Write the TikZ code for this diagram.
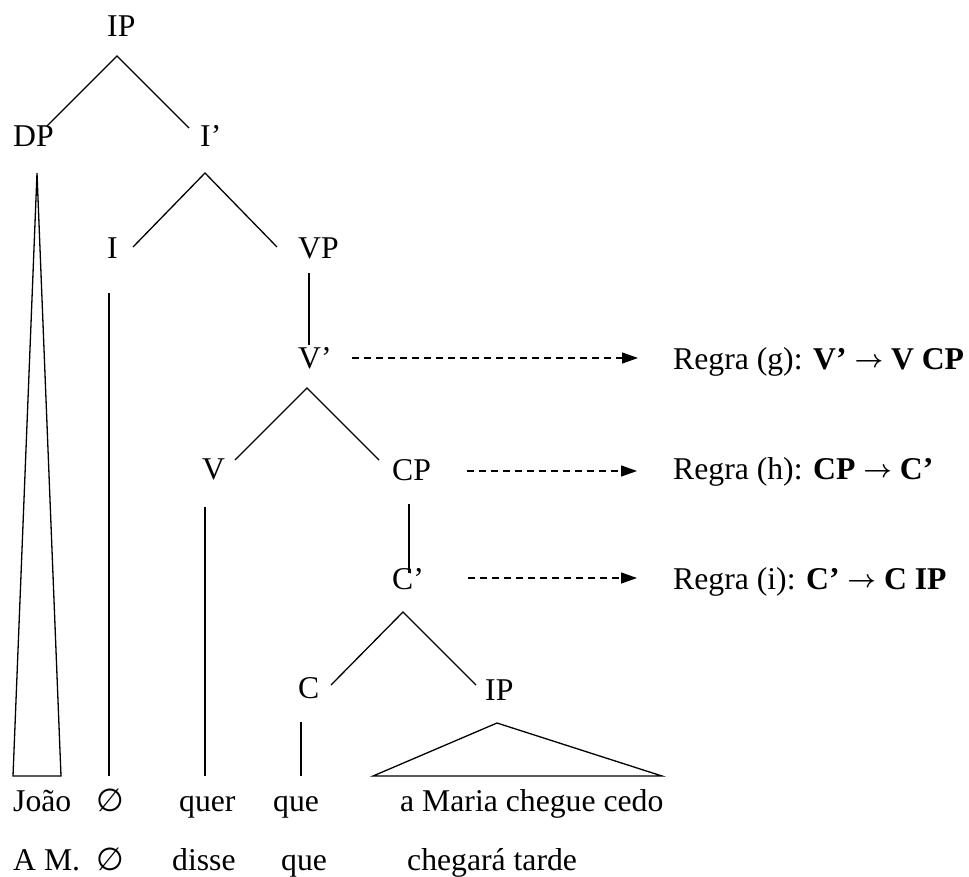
\documentclass[tikz,border=0pt]{standalone}
\usepackage{fontspec}
\setmainfont{Liberation Serif}
\newfontfamily\djv{DejaVu Sans}
\usetikzlibrary{arrows.meta}
\newcommand{\rulearrow}{\raisebox{2pt}{\fontsize{27}{30}\selectfont\boldmath$\rightarrow$}}
\begin{document}
\begin{tikzpicture}[x=1pt,y=-1pt,
  lbl/.style={anchor=base west, inner sep=0pt, font=\fontsize{31.7}{38}\selectfont},
  edge/.style={line width=1.3pt, line join=miter},
  dasharrow/.style={line width=1.2pt, dash pattern=on 7pt off 5pt, -{Triangle[length=16pt,width=11pt]}}]
\useasboundingbox (0,0) rectangle (969,876);
% labels
\node[lbl] (ip) at (107,36) {IP};
\node[lbl] (dp) at (13,146) {DP};
\node[lbl] (ibar) at (200,146) {I’};
\node[lbl] (i) at (107,258) {I};
\node[lbl] (vp) at (298,258) {VP};
\node[lbl] (vbar) at (298,368) {V’};
\node[lbl] (v) at (202,479) {V};
\node[lbl] (cp) at (392,480) {CP};
\node[lbl] (cbar) at (392,589) {C’};
\node[lbl] (c) at (298,698) {C};
\node[lbl] (ip2) at (485,700) {IP};
% words row 1
\node[lbl] (joao) at (13,811) {João};
\node[lbl] (e1) at (96,811) {{\djv ∅}};
\node[lbl] (quer) at (179,811) {quer};
\node[lbl] (que1) at (273,811) {que};
\node[lbl] (amaria) at (400,811) {a Maria chegue cedo};
% words row 2
\node[lbl] (am) at (13,870) {A M.};
\node[lbl] (e2) at (96,870) {{\djv ∅}};
\node[lbl] (disse) at (172,870) {disse};
\node[lbl] (que2) at (281,870) {que};
\node[lbl] (chegara) at (407,870) {chegará tarde};
% rules
\node[lbl] (rg) at (673,369) {Regra (g): \textbf{V’ \rulearrow{} V CP}};
\node[lbl] (rh) at (673,479) {Regra (h): \textbf{CP \rulearrow{} C’}};
\node[lbl] (ri) at (673,589) {Regra (i): \textbf{C’ \rulearrow{} C IP}};
% coordinates
\coordinate (a1) at (117,56);
\coordinate (a1l) at (47,126);
\coordinate (a1r) at (189,128);
\coordinate (a2) at (205,173);
\coordinate (a2l) at (133,247);
\coordinate (a2r) at (277,247);
\coordinate (dpt) at (37,173);
\coordinate (dpl) at (13,776);
\coordinate (dpr) at (61,776);
\coordinate (it) at (109,293);
\coordinate (ib) at (109,776);
\coordinate (vpt) at (309,273);
\coordinate (vpb) at (309,345);
\coordinate (a3) at (307,388);
\coordinate (a3l) at (235,460);
\coordinate (a3r) at (379,460);
\coordinate (vt) at (205,507);
\coordinate (vb) at (205,776);
\coordinate (cpt) at (409,504);
\coordinate (cpb) at (409,573);
\coordinate (a4) at (403,612);
\coordinate (a4l) at (331,685);
\coordinate (a4r) at (476,685);
\coordinate (ct) at (301,722);
\coordinate (cb) at (301,776);
\coordinate (ipt) at (497,723);
\coordinate (ipl) at (373,776);
\coordinate (ipr) at (662,776);
\coordinate (gs) at (352,358);
\coordinate (ge) at (638,358);
\coordinate (hs) at (467,471);
\coordinate (he) at (637,471);
\coordinate (is) at (468,578);
\coordinate (ie) at (637,578);
% edges
\draw[edge] (a1l) -- (a1) -- (a1r);
\draw[edge] (a2l) -- (a2) -- (a2r);
\draw[edge] (dpt) -- (dpl) -- (dpr) -- cycle;
\draw[edge] (it) -- (ib);
\draw[edge] (vpt) -- (vpb);
\draw[edge] (a3l) -- (a3) -- (a3r);
\draw[edge] (vt) -- (vb);
\draw[edge] (cpt) -- (cpb);
\draw[edge] (a4l) -- (a4) -- (a4r);
\draw[edge] (ct) -- (cb);
\draw[edge] (ipt) -- (ipl) -- (ipr) -- cycle;
\draw[dasharrow] (gs) -- (ge);
\draw[dasharrow] (hs) -- (he);
\draw[dasharrow] (is) -- (ie);
\end{tikzpicture}
\end{document}
